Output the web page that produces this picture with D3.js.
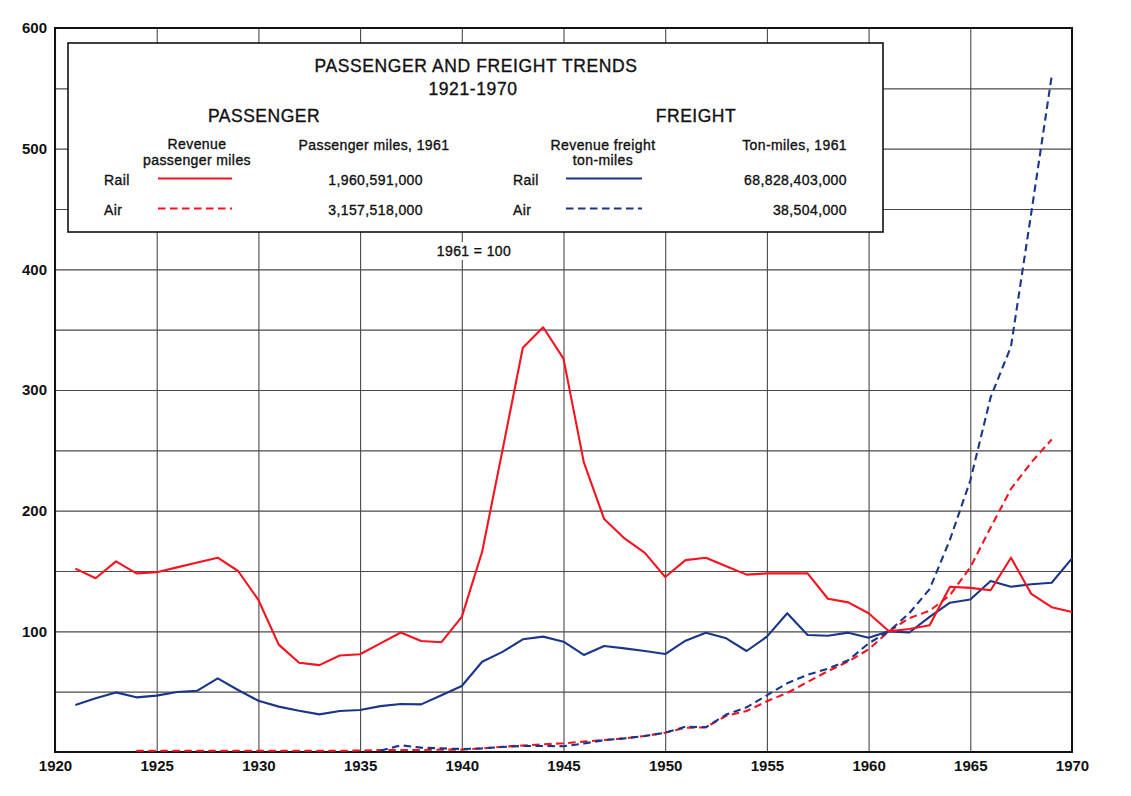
<!DOCTYPE html>
<html>
<head>
<meta charset="utf-8">
<script src="https://cdn.jsdelivr.net/npm/d3@7"></script>
<style>
  html, body { margin: 0; padding: 0; background: #fff; }
  svg { display: block; font-family: "Liberation Sans", Arial, Helvetica, sans-serif; }
</style>
</head>
<body>
<svg id="chart" width="1131" height="796"></svg>
<script>
// ---------------- DATA (index, 1961 = 100) ----------------
const years = d3.range(1921, 1971);
const railPassenger = [152,144,158,148,149,153,157,161,150,126,89,74,72,80,81,90,99,92,91,112,
  166,250,335,352,326,240,193,177,165,145,159,161,154,147,148,148,148,127,124,115,
  100,102,105,137,136,134,161,131,120,116];
const railFreight = [39,44.5,49.4,45.3,46.7,49.7,50.8,61,51.4,42.5,37.6,34.2,31.2,34,34.8,38,39.8,39.5,47,54.7,
  74.8,83,93.4,95.6,91.4,80.4,87.8,85.9,83.7,81.2,92.2,98.9,94.2,83.7,95.6,115,97,96.4,98.9,94.7,
  100,99,112,123.7,126.4,141.7,137,139,140.3,160.5];
const airPassengerYears = d3.range(1924, 1970);
const airPassenger = [1,1,1,1,1,1,1,1,1,1,1,1.2,1.6,1.6,1.6,2,2,3,4.4,5.4,6.4,7.2,8.6,9.9,11.3,13.3,
  16,20,20.5,30,34,42,49,58,67,75,85,100,111,117,130,153,186,218,240,259];
const airFreightYears = d3.range(1936, 1970);
const airFreight = [1,5.6,3.6,3,2.5,3,4.2,5,5,4.8,7,9.9,11.3,13.3,16,21,20.5,31,37,47,
  57,64,69,76,90,100,115,135,176,225,294,336,447,560];

const xTicks = d3.range(1920, 1971, 5);
const yTickLabels = [100,200,300,400,500,600];
const yGrid = d3.range(50, 600, 50);

const titleLines = ["PASSENGER AND FREIGHT TRENDS", "1921-1970"];
const passengerHeads = ["PASSENGER", "Revenue", "passenger miles", "Passenger miles, 1961"];
const freightHeads = ["FREIGHT", "Revenue freight", "ton-miles", "Ton-miles, 1961"];
const passengerRows = [["Rail", "1,960,591,000"], ["Air", "3,157,518,000"]];
const freightRows = [["Rail", "68,828,403,000"], ["Air", "38,504,000"]];
const baseNote = "1961 = 100";

// ---------------- STYLE ----------------
const RED = "#f5131f", BLUE = "#1a3688";
const DASH = "7.5,4.5";

const svg = d3.select("#chart");
const x = d3.scaleLinear().domain([1920, 1970]).range([55, 1072]);
const y = d3.scaleLinear().domain([0, 600]).range([752, 28]);

// grid
const gridG = svg.append("g");
gridG.append("g").attr("transform", `translate(0,${y(0)})`)
  .call(d3.axisBottom(x).tickValues(xTicks).tickSize(-(y(0) - y(600))).tickFormat(""))
  .call(g => g.select(".domain").remove())
  .call(g => g.selectAll("line").attr("stroke", "#4a4a4a").attr("stroke-width", 1.1));
gridG.append("g").attr("transform", `translate(${x(1920)},0)`)
  .call(d3.axisLeft(y).tickValues(yGrid).tickSize(-(x(1970) - x(1920))).tickFormat(""))
  .call(g => g.select(".domain").remove())
  .call(g => g.selectAll("line").attr("stroke", "#4a4a4a").attr("stroke-width", 1.1));

// axes labels
svg.append("g").attr("transform", `translate(${x(1920)},0)`)
  .call(d3.axisLeft(y).tickValues(yTickLabels).tickSize(0).tickPadding(8).tickFormat(d3.format("d")))
  .call(g => g.select(".domain").remove())
  .call(g => g.selectAll("text").attr("font-size", 15).attr("font-weight", "bold")
    .attr("fill", "#111").attr("font-family", "'Liberation Sans', Arial, sans-serif"));
svg.append("g").attr("transform", `translate(0,${y(0)})`)
  .call(d3.axisBottom(x).tickValues(xTicks).tickSize(0).tickPadding(8).tickFormat(d3.format("d")))
  .call(g => g.select(".domain").remove())
  .call(g => g.selectAll("text").attr("font-size", 15).attr("font-weight", "bold")
    .attr("fill", "#111").attr("font-family", "'Liberation Sans', Arial, sans-serif"));

// frame
svg.append("rect").attr("x", x(1920)).attr("y", y(600))
  .attr("width", x(1970) - x(1920)).attr("height", y(0) - y(600))
  .attr("fill", "none").attr("stroke", "#111").attr("stroke-width", 2);

// lines
const line = d3.line().x(d => x(d[0])).y(d => y(d[1]));
function drawSeries(yrs, vals, color, dashed) {
  svg.append("path").datum(yrs.map((yr, i) => [yr, vals[i]]))
    .attr("d", line).attr("fill", "none").attr("stroke", color)
    .attr("stroke-width", 2.1).attr("stroke-linejoin", "round")
    .attr("stroke-dasharray", dashed ? DASH : null);
}
drawSeries(airPassengerYears, airPassenger, RED, true);
drawSeries(airFreightYears, airFreight, BLUE, true);
drawSeries(years, railFreight, BLUE, false);
drawSeries(years, railPassenger, RED, false);

// legend box
const lg = svg.append("g");
lg.append("rect").attr("x", 68).attr("y", 43).attr("width", 815).attr("height", 189)
  .attr("fill", "#fff").attr("stroke", "#111").attr("stroke-width", 1.6);

function txt(t, tx, ty, opts = {}) {
  return lg.append("text").attr("x", tx).attr("y", ty).text(t)
    .attr("font-size", opts.size || 14).attr("fill", "#111")
    .attr("stroke", "#111").attr("stroke-width", 0.35)
    .attr("text-anchor", opts.anchor || "middle")
    .attr("letter-spacing", opts.ls != null ? opts.ls : 0.4)
    .attr("dominant-baseline", "central");
}
txt(titleLines[0], 476, 66, {size: 17.5, ls: 0.6});
txt(titleLines[1], 473, 89, {size: 17.5, ls: 0.6});

txt(passengerHeads[0], 264, 116, {size: 17.5, ls: 0.5});
txt(passengerHeads[1], 197, 144);
txt(passengerHeads[2], 197, 159.5);
txt(passengerHeads[3], 374, 145);

txt(freightHeads[0], 696, 116, {size: 17.5, ls: 0.5});
txt(freightHeads[1], 603, 145);
txt(freightHeads[2], 603, 159.5);
txt(freightHeads[3], 847, 145, {anchor: "end"});

const rowY = [179.5, 209.5];
passengerRows.forEach((r, i) => {
  txt(r[0], 104, rowY[i], {anchor: "start"});
  txt(r[1], 423, rowY[i], {anchor: "end"});
  lg.append("line").attr("x1", 158).attr("x2", 232).attr("y1", rowY[i] - 1).attr("y2", rowY[i] - 1)
    .attr("stroke", RED).attr("stroke-width", 2).attr("stroke-dasharray", i === 1 ? DASH : null);
});
freightRows.forEach((r, i) => {
  txt(r[0], 513, rowY[i], {anchor: "start"});
  txt(r[1], 847, rowY[i], {anchor: "end"});
  lg.append("line").attr("x1", 566).attr("x2", 642).attr("y1", rowY[i] - 1).attr("y2", rowY[i] - 1)
    .attr("stroke", BLUE).attr("stroke-width", 2).attr("stroke-dasharray", i === 1 ? DASH : null);
});

// base note with white background
lg.append("rect").attr("x", 432).attr("y", 242).attr("width", 84).attr("height", 18).attr("fill", "#fff");
txt(baseNote, 474, 251);
</script>
</body>
</html>
